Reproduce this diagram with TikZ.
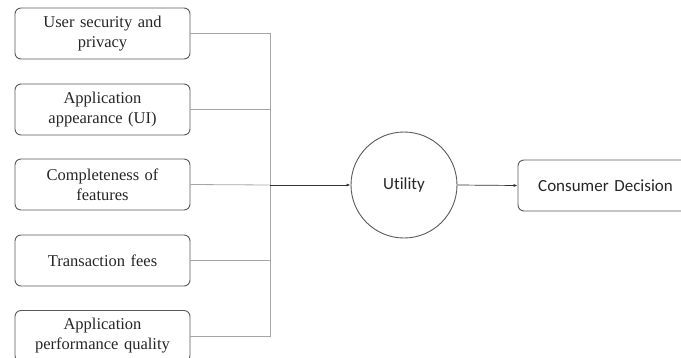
\documentclass[tikz,border=0pt]{standalone}
\usepackage{fontspec}
\setmainfont{Liberation Serif}
\newfontfamily\sansf[Ligatures=NoCommon]{Carlito}
\usetikzlibrary{arrows.meta}
\begin{document}
\begin{tikzpicture}[x=1pt,y=-1pt,
  factor/.style={draw=black!65, line width=0.9pt, rounded corners=6pt, minimum width=175pt, minimum height=51pt, text width=165pt, align=center, font=\fontsize{16.5}{20}\selectfont, inner sep=0pt, text=black!85},
  link/.style={draw=black!35, line width=0.8pt},
  arr/.style={draw=black!80, line width=0.7pt, -{Latex[length=4pt,width=3pt]}}]
\useasboundingbox (0,0) rectangle (681,357);
\node[factor] (b1) at (102.5,33.5) {User security and\\privacy};
\node[factor] (b2) at (102.5,109.5) {Application\\appearance (UI)};
\node[factor] (b3) at (102.5,184.5) {Completeness of\\features};
\node[factor] (b4) at (102.5,260.5) {Transaction fees};
\node[factor] (b5) at (102.5,336) {Application\\performance quality};
\node[circle, draw=black!65, line width=0.9pt, minimum size=106pt, inner sep=0pt, text=black!85, font=\sansf\fontsize{17}{20}\selectfont] (u) at (404,185) {Utility};
\node[factor, font=\sansf\fontsize{17}{20}\selectfont] (cd) at (605.5,185.5) {Consumer Decision};
\coordinate (j) at (270,185);
\draw[link] (b1.east) -- (b1.east -| j) -- (b5.east -| j) -- (b5.east);
\draw[link] (b2.east) -- (b2.east -| j);
\draw[link] (b3.east) -- (j);
\draw[link] (b4.east) -- (b4.east -| j);
\draw[arr] (j) -- (u.west);
\draw[arr] (u.east) -- (cd.west);
\end{tikzpicture}
\end{document}
